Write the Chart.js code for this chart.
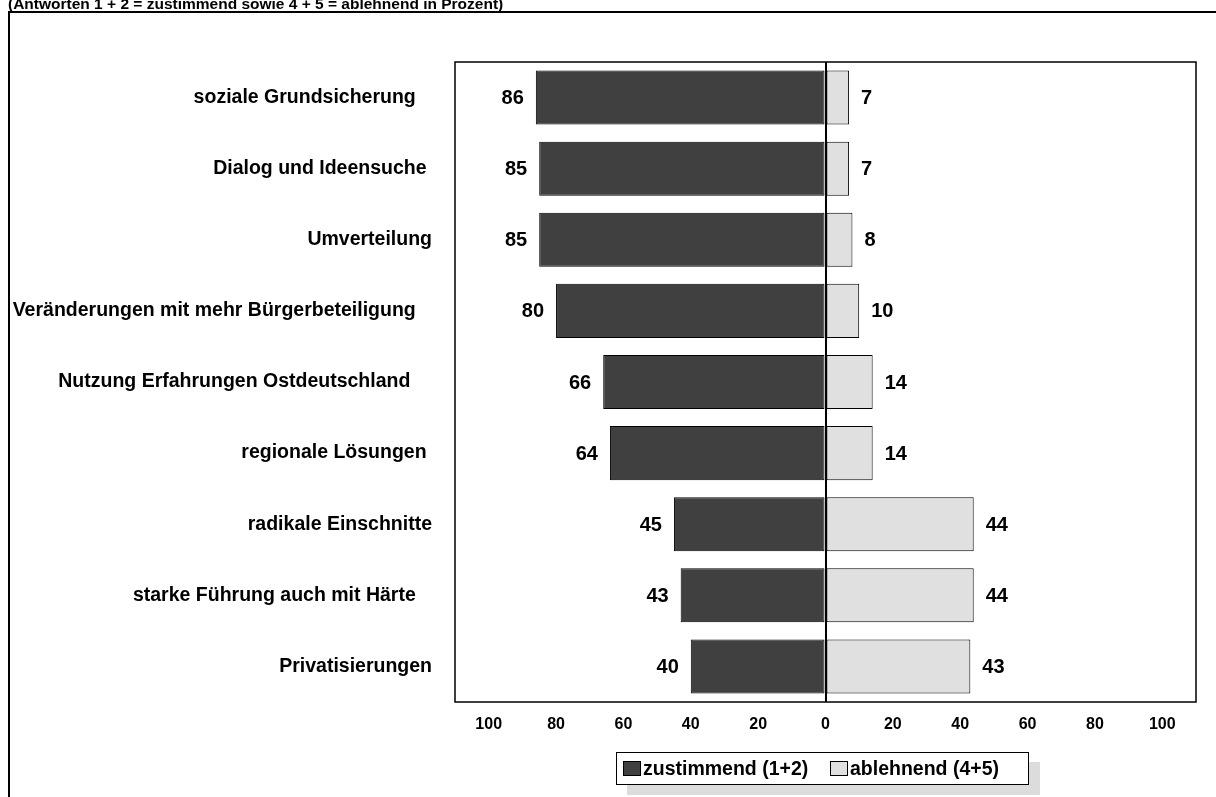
<!DOCTYPE html>
<html>
<head>
<meta charset="utf-8">
<script src="https://cdn.jsdelivr.net/npm/chart.js@4.4.1/dist/chart.umd.min.js"></script>
<style>
  html, body { margin: 0; padding: 0; background: #fff; overflow: hidden; }
  #wrap { position: relative; width: 1216px; height: 797px; }
  #c { position: absolute; left: 0; top: 0; }
  #title { position: absolute; left: 8px; top: -5px; font: bold 15.5px "Liberation Sans", Arial, sans-serif; color: #000; white-space: nowrap; line-height: 18px; }
  #legend { position: absolute; left: 616px; top: 752px; width: 411px; height: 31px; border: 1.5px solid #000; background: #fff; box-shadow: 11px 10px 0 #dcdcdc; font: bold 19.5px "Liberation Sans", Arial, sans-serif; color: #000; white-space: nowrap; }
  .li { position: absolute; top: 0; height: 31px; line-height: 31px; }
  .sw { display: inline-block; width: 18px; height: 15px; border: 1px solid #000; vertical-align: -1px; margin-right: 2px; box-sizing: border-box; }
</style>
</head>
<body>
<div id="wrap">
  <canvas id="c" width="1216" height="797"></canvas>
  <div id="title"></div>
  <div id="legend"></div>
</div>
<script>
const titleText = "(Antworten 1 + 2 = zustimmend sowie 4 + 5 = ablehnend in Prozent)";
const categories = [
  "soziale Grundsicherung   ",
  "Dialog und Ideensuche ",
  "Umverteilung",
  "Veränderungen mit mehr Bürgerbeteiligung   ",
  "Nutzung Erfahrungen Ostdeutschland    ",
  "regionale Lösungen ",
  "radikale Einschnitte",
  "starke Führung auch mit Härte   ",
  "Privatisierungen"
];
const zustimmend = [86, 85, 85, 80, 66, 64, 45, 43, 40];
const ablehnend = [7, 7, 8, 10, 14, 14, 44, 44, 43];
const seriesNames = ["zustimmend (1+2)", "ablehnend (4+5)"];
const seriesColors = ["#404040", "#e0e0e0"];
const tickValues = [-100, -80, -60, -40, -20, 0, 20, 40, 60, 80, 100];

document.getElementById('title').textContent = titleText;

// HTML legend
const lg = document.getElementById('legend');
const legendLefts = [6, 213];
seriesNames.forEach((n, i) => {
  const d = document.createElement('div');
  d.className = 'li';
  d.style.left = legendLefts[i] + 'px';
  const s = document.createElement('span');
  s.className = 'sw';
  s.style.background = seriesColors[i];
  d.appendChild(s);
  d.appendChild(document.createTextNode(n));
  lg.appendChild(d);
});

const framePlugin = {
  id: 'frames',
  beforeDraw(chart) {
    const ctx = chart.ctx;
    ctx.save();
    ctx.strokeStyle = '#000';
    ctx.lineWidth = 2;
    ctx.strokeRect(9, 12, 1400, 1000);
    ctx.restore();
  },
  afterDraw(chart) {
    const ctx = chart.ctx;
    const a = chart.chartArea;
    ctx.save();
    ctx.strokeStyle = '#000';
    ctx.lineWidth = 1.5;
    ctx.strokeRect(a.left, a.top, a.right - a.left, a.bottom - a.top);
    ctx.restore();
  }
};

const valuePlugin = {
  id: 'values',
  afterDatasetsDraw(chart) {
    const ctx = chart.ctx;
    ctx.save();
    ctx.font = 'bold 20px "Liberation Sans", Arial, sans-serif';
    ctx.fillStyle = '#000';
    ctx.textBaseline = 'middle';
    const m0 = chart.getDatasetMeta(0);
    const m1 = chart.getDatasetMeta(1);
    m0.data.forEach((el, i) => {
      ctx.textAlign = 'right';
      ctx.fillText(String(zustimmend[i]), el.x - 12, el.y + 1);
    });
    m1.data.forEach((el, i) => {
      ctx.textAlign = 'left';
      ctx.fillText(String(ablehnend[i]), el.x + 12, el.y + 1);
    });
    ctx.restore();
  }
};

new Chart(document.getElementById('c'), {
  type: 'bar',
  data: {
    labels: categories,
    datasets: [
      { label: seriesNames[0], data: zustimmend.map(v => -v), backgroundColor: seriesColors[0], borderColor: '#000', borderWidth: 1, borderSkipped: false },
      { label: seriesNames[1], data: ablehnend, backgroundColor: seriesColors[1], borderColor: '#000', borderWidth: 1, borderSkipped: false }
    ]
  },
  options: {
    indexAxis: 'y',
    responsive: false,
    animation: false,
    events: [],
    barPercentage: 0.76,
    categoryPercentage: 1.0,
    layout: { padding: { left: 0, right: 20, top: 62, bottom: 0 } },
    plugins: { legend: { display: false }, title: { display: false }, tooltip: { enabled: false } },
    scales: {
      x: {
        stacked: true,
        min: -110,
        max: 110,
        afterBuildTicks(axis) { axis.ticks = tickValues.map(v => ({ value: v })); },
        afterFit(axis) { axis.height = 95; },
        border: { display: false },
        grid: {
          drawTicks: false,
          color: ctx => (ctx.tick && ctx.tick.value === 0) ? '#000' : 'rgba(0,0,0,0)',
          lineWidth: ctx => (ctx.tick && ctx.tick.value === 0) ? 2 : 0
        },
        ticks: {
          padding: 13,
          color: '#000',
          font: { family: '"Liberation Sans", Arial, sans-serif', size: 16, weight: 'bold' },
          callback: v => String(Math.abs(v))
        }
      },
      y: {
        stacked: true,
        afterFit(axis) { axis.width = 455; },
        border: { display: false },
        grid: { display: false, drawTicks: false },
        ticks: {
          padding: 23,
          color: '#000',
          font: { family: '"Liberation Sans", Arial, sans-serif', size: 19.5, weight: 'bold' },
          autoSkip: false
        }
      }
    }
  },
  plugins: [framePlugin, valuePlugin]
});
</script>
</body>
</html>
